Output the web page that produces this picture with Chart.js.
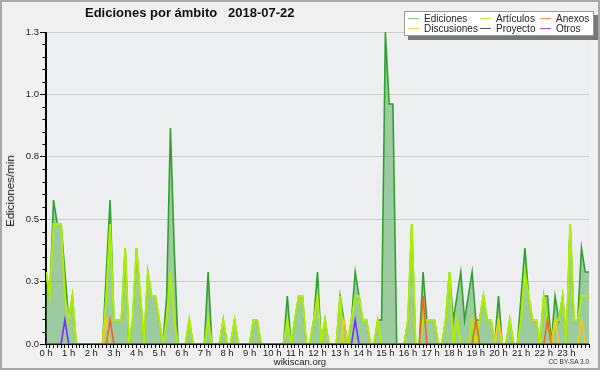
<!DOCTYPE html>
<html>
<head>
<meta charset="utf-8">
<script src="https://cdn.jsdelivr.net/npm/chart.js@4.4.1/dist/chart.umd.min.js"></script>
<style>
    body { margin: 0; background: #fff; }
    #wrap { position: relative; width: 600px; height: 370px; background: #f0f0f0; overflow: hidden; font-family: "Liberation Sans", Arial, sans-serif; color: #111; }
    #frame { position: absolute; left: 0; top: 0; width: 600px; height: 370px; box-sizing: border-box; border: 2px solid #a8a8a8; pointer-events: none; }
    canvas { position: absolute; left: 0; top: 0; }
    #title { position: absolute; left: 85px; top: 6px; font-size: 13px; line-height: 1; font-weight: bold; white-space: pre; }
    #ytitle { position: absolute; left: 10px; top: 191px; transform: translate(-50%, -50%) rotate(-90deg); font-size: 11.5px; white-space: nowrap; }
    #legendBox { position: absolute; left: 404px; top: 11px; width: 190px; height: 25px; box-sizing: border-box; background: #fff; border: 1px solid #999; box-shadow: 4px 4px 0 #777; }
    .lg { position: absolute; font-size: 10px; line-height: 1; white-space: nowrap; color: #222; }
    .lg i { position: absolute; left: -16px; top: 4px; width: 11px; height: 0; border-top: 1px solid; }
    #site { position: absolute; left: 0; width: 600px; top: 357px; text-align: center; font-size: 9.5px; line-height: 1; color: #222; }
    #licence { position: absolute; right: 11px; top: 359px; font-size: 6.5px; line-height: 1; color: #333; }
</style>
</head>
<body>
<div id="wrap">
    <canvas id="chart" width="600" height="370"></canvas>
    <div id="title">Ediciones por ámbito   2018-07-22</div>
    <div id="ytitle">Ediciones/min</div>
    <div id="legendBox"></div>
    <div id="legend"></div>
    <div id="site">wikiscan.org</div>
    <div id="licence">CC BY-SA 3.0</div>
    <div id="frame"></div>
</div>
<script>
// 10-minute slots, 0:00 .. 24:00 (145 points), edits per minute
const hourLabels = ['0 h', '1 h', '2 h', '3 h', '4 h', '5 h', '6 h', '7 h', '8 h', '9 h', '10 h', '11 h',
    '12 h', '13 h', '14 h', '15 h', '16 h', '17 h', '18 h', '19 h', '20 h', '21 h', '22 h', '23 h'];

const ediciones = [
    0.3, 0.2, 0.6, 0.5, 0.5, 0.3, 0.1, 0.2, 0, 0, 0, 0,
    0, 0, 0, 0, 0.3, 0.6, 0.1, 0.1, 0.1, 0.4, 0, 0.1,
    0.4, 0.2, 0, 0.3, 0.2, 0.2, 0.1, 0, 0.2, 0.9, 0.4, 0,
    0, 0, 0.1, 0, 0, 0, 0, 0.3, 0, 0, 0, 0.1,
    0, 0, 0.1, 0, 0, 0, 0, 0.1, 0.1, 0, 0, 0,
    0, 0, 0, 0, 0.2, 0, 0.1, 0.2, 0.2, 0, 0, 0.1,
    0.3, 0, 0.1, 0, 0, 0, 0.2, 0.1, 0, 0.1, 0.3, 0.2,
    0.1, 0.1, 0, 0, 0.1, 0.1, 1.3, 1.0, 1.0, 0, 0, 0,
    0.1, 0.5, 0, 0, 0.3, 0.1, 0.1, 0.1, 0, 0, 0.1, 0.3,
    0.1, 0.2, 0.3, 0.1, 0.2, 0.3, 0.1, 0.1, 0.2, 0.1, 0.1, 0,
    0.2, 0, 0, 0.1, 0, 0, 0.2, 0.4, 0.2, 0.1, 0.1, 0,
    0.2, 0.2, 0, 0.2, 0.1, 0.2, 0, 0.5, 0.1, 0.1, 0.4, 0.3,
    0.3
];
const articulos = [
    0.3, 0.2, 0.5, 0.5, 0.5, 0.2, 0.1, 0.2, 0, 0, 0, 0,
    0, 0, 0, 0, 0.2, 0.5, 0.1, 0.1, 0.1, 0.4, 0, 0.1,
    0.4, 0.2, 0, 0.3, 0.2, 0.2, 0.1, 0, 0.1, 0.3, 0.1, 0,
    0, 0, 0.1, 0, 0, 0, 0, 0.1, 0, 0, 0, 0.1,
    0, 0, 0.1, 0, 0, 0, 0, 0.1, 0.1, 0, 0, 0,
    0, 0, 0, 0, 0.1, 0, 0.1, 0.2, 0.2, 0, 0, 0.1,
    0.2, 0, 0.1, 0, 0, 0, 0.2, 0, 0, 0.1, 0.2, 0.2,
    0.1, 0.1, 0, 0, 0.1, 0, 0, 0, 0, 0, 0, 0,
    0.1, 0.5, 0, 0, 0.1, 0.1, 0.1, 0.1, 0, 0, 0.1, 0.3,
    0, 0.1, 0, 0, 0, 0.1, 0, 0.1, 0.2, 0.1, 0.1, 0,
    0.1, 0, 0, 0.1, 0, 0, 0.1, 0.3, 0.2, 0.1, 0.1, 0,
    0.2, 0.1, 0, 0.1, 0.1, 0.2, 0, 0.5, 0.1, 0.1, 0.2, 0.2,
    0.2
];
const anexos = [
    0, 0, 0, 0, 0, 0, 0, 0, 0, 0, 0, 0,
    0, 0, 0, 0, 0, 0.1, 0, 0, 0, 0, 0, 0,
    0, 0, 0, 0, 0, 0, 0, 0, 0, 0, 0, 0,
    0, 0, 0, 0, 0, 0, 0, 0, 0, 0, 0, 0,
    0, 0, 0, 0, 0, 0, 0, 0, 0, 0, 0, 0,
    0, 0, 0, 0, 0, 0, 0, 0, 0, 0, 0, 0,
    0, 0, 0, 0, 0, 0, 0, 0, 0, 0, 0, 0,
    0, 0, 0, 0, 0, 0, 0, 0, 0, 0, 0, 0,
    0, 0, 0, 0, 0.2, 0, 0, 0, 0, 0, 0, 0,
    0, 0, 0, 0, 0, 0, 0.1, 0, 0, 0, 0, 0,
    0, 0, 0, 0, 0, 0, 0, 0, 0, 0, 0, 0,
    0, 0.1, 0, 0, 0, 0, 0, 0, 0, 0, 0, 0,
    0
];
const discusiones = [
    0, 0, 0, 0, 0, 0, 0, 0, 0, 0, 0, 0,
    0, 0, 0, 0, 0.1, 0, 0, 0, 0, 0, 0, 0,
    0, 0, 0, 0, 0, 0, 0, 0, 0, 0, 0, 0,
    0, 0, 0, 0, 0, 0, 0, 0, 0, 0, 0, 0,
    0, 0, 0, 0, 0, 0, 0, 0, 0, 0, 0, 0,
    0, 0, 0, 0, 0, 0, 0, 0, 0, 0, 0, 0,
    0, 0, 0, 0, 0, 0, 0, 0.1, 0, 0, 0, 0,
    0, 0, 0, 0, 0, 0, 0, 0, 0, 0, 0, 0,
    0, 0, 0, 0, 0, 0, 0, 0, 0, 0, 0, 0,
    0, 0, 0, 0, 0, 0, 0, 0, 0, 0, 0, 0,
    0.1, 0, 0, 0, 0, 0, 0, 0, 0, 0, 0, 0,
    0, 0, 0, 0.1, 0, 0, 0, 0, 0, 0, 0.1, 0,
    0
];
const proyecto = new Array(145).fill(0);
const otros = [
    0, 0, 0, 0, 0, 0.1, 0, 0, 0, 0, 0, 0,
    0, 0, 0, 0, 0, 0, 0, 0, 0, 0, 0, 0,
    0, 0, 0, 0, 0, 0, 0, 0, 0, 0, 0, 0,
    0, 0, 0, 0, 0, 0, 0, 0, 0, 0, 0, 0,
    0, 0, 0, 0, 0, 0, 0, 0, 0, 0, 0, 0,
    0, 0, 0, 0, 0, 0, 0, 0, 0, 0, 0, 0,
    0, 0, 0, 0, 0, 0, 0, 0, 0, 0, 0.1, 0,
    0, 0, 0, 0, 0, 0, 0, 0, 0, 0, 0, 0,
    0, 0, 0, 0, 0, 0, 0, 0, 0, 0, 0, 0,
    0, 0, 0, 0, 0, 0, 0, 0, 0, 0, 0, 0,
    0, 0, 0, 0, 0, 0, 0, 0, 0, 0, 0, 0,
    0, 0, 0, 0, 0, 0, 0, 0, 0, 0, 0, 0,
    0
];

const yMax = 1.3;
const yStep = 0.26;

// legend: [label, colour, left, top]
const legendItems = [
    ['Ediciones', '#8fce8f', 424, 14],
    ['Artículos', '#c8ee40', 496, 14],
    ['Anexos', '#ff8a5a', 556, 14],
    ['Discusiones', '#ffd84a', 424, 24],
    ['Proyecto', '#555555', 496, 24],
    ['Otros', '#9a55ff', 556, 24]
];

const slotLabels = [];
for (let i = 0; i <= 144; i++) {
    slotLabels.push(i % 6 === 0 && i < 144 ? hourLabels[i / 6] : '');
}

document.getElementById('legend').innerHTML = legendItems.map(([label, color, x, y]) =>
    `<div class="lg" style="left:${x}px;top:${y}px"><i style="border-color:${color}"></i>${label}</div>`
).join('');

const plotDecor = {
    id: 'plotDecor',
    beforeDraw(chart) {
        const { ctx, chartArea: a } = chart;
        ctx.save();
        ctx.fillStyle = '#eceef0';
        ctx.fillRect(a.left, a.top, a.right - a.left, a.bottom - a.top);
        ctx.restore();
    },
    afterDatasetsDraw(chart) {
        const { ctx, chartArea: a, scales: { y } } = chart;
        const left = Math.round(a.left) - 0.5;
        const bottom = Math.round(a.bottom) + 0.5;
        ctx.save();
        ctx.strokeStyle = '#000';
        ctx.lineWidth = 1;
        ctx.beginPath();
        ctx.moveTo(left, a.top);
        ctx.lineTo(left, bottom);
        ctx.lineTo(a.right, bottom);
        // minor ticks on the value axis
        for (let k = 1; k < 25; k++) {
            if (k % 5 === 0) continue;
            const py = Math.round(y.getPixelForValue(k * yStep / 5)) + 0.5;
            ctx.moveTo(left - 3, py);
            ctx.lineTo(left, py);
        }
        ctx.stroke();
        ctx.restore();
    }
};

Chart.defaults.font.family = '"Liberation Sans", Arial, sans-serif';

function line(label, data, color, width) {
    return {
        label: label,
        data: data,
        borderColor: color,
        borderWidth: width,
        pointRadius: 0,
        tension: 0,
        fill: false
    };
}

new Chart(document.getElementById('chart'), {
    type: 'line',
    data: {
        labels: slotLabels,
        // first dataset is drawn on top
        datasets: [
            line('Otros', otros, '#7a2cff', 1.6),
            line('Anexos', anexos, '#f26522', 1.6),
            line('Discusiones', discusiones, '#ffc61a', 1.6),
            line('Artículos', articulos, '#aeee00', 2),
            line('Proyecto', proyecto, '#555555', 1.2),
            {
                label: 'Ediciones',
                data: ediciones,
                borderColor: '#2fa12f',
                borderWidth: 1.6,
                backgroundColor: 'rgba(60, 160, 60, 0.45)',
                pointRadius: 0,
                tension: 0,
                fill: 'origin'
            }
        ]
    },
    options: {
        responsive: false,
        animation: false,
        layout: { padding: { top: 32, right: 11, left: 0, bottom: 0 } },
        plugins: {
            legend: { display: false },
            tooltip: { enabled: false }
        },
        scales: {
            x: {
                afterFit: scale => { scale.height = 26; },
                grid: { drawOnChartArea: false, tickColor: '#000', tickLength: 4 },
                border: { color: '#000' },
                ticks: {
                    autoSkip: false,
                    maxRotation: 0,
                    minRotation: 0,
                    padding: 0,
                    color: '#222',
                    font: { size: 9.5 }
                }
            },
            y: {
                min: 0,
                max: yMax,
                afterFit: scale => { scale.width = 46; },
                grid: {
                    color: c => c.tick && c.tick.value === 0 ? 'rgba(0,0,0,0)' : '#cccccc',
                    tickColor: '#000',
                    tickLength: 6
                },
                border: { color: '#000' },
                ticks: {
                    stepSize: yStep,
                    padding: 1,
                    color: '#222',
                    font: { size: 9.5 },
                    callback: v => v.toFixed(1)
                }
            }
        }
    },
    plugins: [plotDecor]
});
</script>
</body>
</html>
